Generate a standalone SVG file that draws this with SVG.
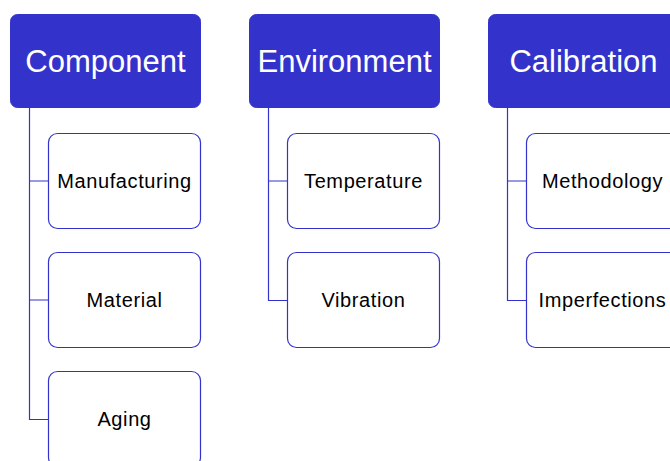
<svg xmlns="http://www.w3.org/2000/svg" width="670" height="461" viewBox="0 0 670 461">
<style>
.hdr{fill:#3333cc;stroke:#3333cc;stroke-width:1}
.hdr-t{font-family:"Liberation Sans",Arial,sans-serif;font-size:31px;fill:#ffffff;text-anchor:middle;dominant-baseline:central}
.box{fill:#ffffff;stroke:#3333cc;stroke-width:1.2}
.box-t{font-family:"Liberation Sans",Arial,sans-serif;font-size:20px;letter-spacing:0.6px;fill:#000000;text-anchor:middle;dominant-baseline:central}
.conn{fill:none;stroke:#3333cc;stroke-width:1.2}
</style>
<rect width="670" height="461" fill="#ffffff"/>
<g id="connectors">
<path class="conn" d="M29.5,108 V419.5 H48 M29.5,181 H48 M29.5,300 H48"/>
<path class="conn" d="M268.5,108 V300.5 H287 M268.5,181 H287"/>
<path class="conn" d="M507.5,108 V300.5 H526 M507.5,181 H526"/>
</g>
<g id="component">
<rect class="hdr" x="10.5" y="14.5" width="190" height="93" rx="7"/>
<text class="hdr-t" x="105.5" y="61">Component</text>
</g>
<g id="manufacturing">
<rect class="box" x="48.5" y="133.5" width="152" height="95" rx="9"/>
<text class="box-t" x="124.5" y="181">Manufacturing</text>
</g>
<g id="material">
<rect class="box" x="48.5" y="252.5" width="152" height="95" rx="9"/>
<text class="box-t" x="124.5" y="300">Material</text>
</g>
<g id="aging">
<rect class="box" x="48.5" y="371.5" width="152" height="95" rx="9"/>
<text class="box-t" x="124.5" y="419">Aging</text>
</g>
<g id="environment">
<rect class="hdr" x="249.5" y="14.5" width="190" height="93" rx="7"/>
<text class="hdr-t" x="344.5" y="61">Environment</text>
</g>
<g id="temperature">
<rect class="box" x="287.5" y="133.5" width="152" height="95" rx="9"/>
<text class="box-t" x="363.5" y="181">Temperature</text>
</g>
<g id="vibration">
<rect class="box" x="287.5" y="252.5" width="152" height="95" rx="9"/>
<text class="box-t" x="363.5" y="300">Vibration</text>
</g>
<g id="calibration">
<rect class="hdr" x="488.5" y="14.5" width="190" height="93" rx="7"/>
<text class="hdr-t" x="583.5" y="61">Calibration</text>
</g>
<g id="methodology">
<rect class="box" x="526.5" y="133.5" width="152" height="95" rx="9"/>
<text class="box-t" x="602.5" y="181">Methodology</text>
</g>
<g id="imperfections">
<rect class="box" x="526.5" y="252.5" width="152" height="95" rx="9"/>
<text class="box-t" x="602.5" y="300">Imperfections</text>
</g>
</svg>
